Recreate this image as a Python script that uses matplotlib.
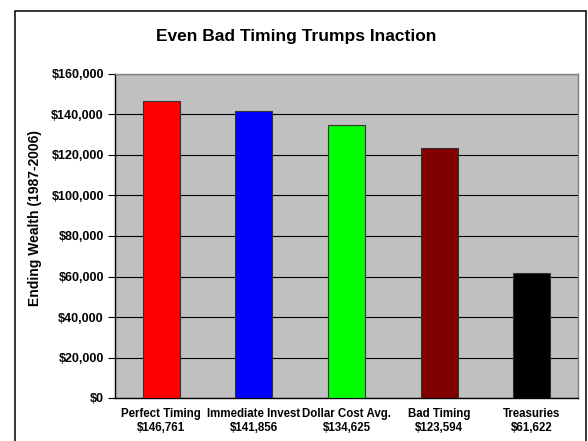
import matplotlib
matplotlib.use('Agg')
import matplotlib.pyplot as plt
from matplotlib.patches import Rectangle
from matplotlib.ticker import FuncFormatter

plt.rcParams['font.family'] = ['Liberation Sans', 'DejaVu Sans']

# data
names = ['Perfect Timing', 'Immediate Invest', 'Dollar Cost Avg.', 'Bad Timing', 'Treasuries']
wealth = [146761, 141856, 134625, 123594, 61622]
bar_colors = ['#FF0000', '#0000FF', '#00FF00', '#800000', '#000000']
yticks = [0, 20000, 40000, 60000, 80000, 100000, 120000, 140000, 160000]

fig = plt.figure(figsize=(5.88, 4.41), dpi=100)
fig.patch.set_facecolor('white')

W, H = 588, 441
ax = fig.add_axes([115 / W, 1 - 398 / H, (578 - 115) / W, (398 - 74) / H])
ax.set_facecolor('#C0C0C0')

x = list(range(len(names)))
ax.bar(x, wealth, width=0.40, color=bar_colors, edgecolor='#333333', linewidth=0.8, zorder=3)

ax.set_xlim(-0.5, len(names) - 0.5)
ax.set_ylim(0, 160000)
ax.set_yticks(yticks)
ax.yaxis.set_major_formatter(FuncFormatter(lambda v, p: '${:,.0f}'.format(v)))
ax.grid(axis='y', color='black', linewidth=0.8, zorder=1)
ax.set_axisbelow(True)

labels = ['{}\n${:,}'.format(n, v) for n, v in zip(names, wealth)]
ax.set_xticks(x)
ax.set_xticklabels(labels, fontsize=8.3, fontweight='bold', linespacing=1.3)
ax.tick_params(axis='x', length=0, pad=7)
ax.tick_params(axis='y', length=5, width=0.8, labelsize=9.0, pad=3, direction='out')
for t in ax.get_yticklabels():
    t.set_fontweight('bold')

ax.spines['left'].set_color('black')
ax.spines['bottom'].set_color('black')
ax.spines['top'].set_color('#808080')
ax.spines['right'].set_color('#808080')
for s in ax.spines.values():
    s.set_linewidth(1.0)

fig.text(296 / W, 1 - 36 / H, 'Even Bad Timing Trumps Inaction', ha='center', va='center',
         fontsize=12.5, fontweight='bold')
fig.text(35 / W, 1 - 218 / H, 'Ending Wealth (1987-2006)', ha='center', va='center',
         rotation=90, fontsize=10.0, fontweight='bold')

# outer chart border
fig.add_artist(Rectangle((15 / W, -0.02), (586 - 15) / W, 1.02 - 11.5 / H,
                         transform=fig.transFigure, fill=False,
                         edgecolor='black', linewidth=1.1))

fig.savefig('out.png', dpi=100)
